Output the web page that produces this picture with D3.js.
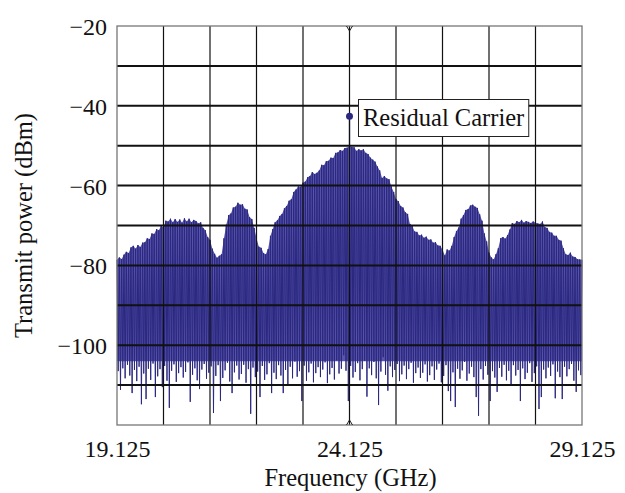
<!DOCTYPE html>
<html lang="en">
<head>
<meta charset="UTF-8">
<title>Transmit power spectrum</title>
<script src="https://d3js.org/d3.v7.min.js"></script>
<style>
    body { margin: 0; background: #fff; }
    svg { display: block; }
    text { font-family: "Liberation Serif", "DejaVu Serif", serif; fill: #111; }
</style>
</head>
<body>
<svg id="chart" width="625" height="493"></svg>
<script>
// spectrum sampled every 50 MHz starting at 19.125 GHz: peak of each tone, then the floor between tones
const fStart = 19.125;
const fStep = 0.05;

const peakPower = [
    -78.6, -78.0, -78.4, -77.3, -76.6, -76.9, -75.5, -75.1, -75.8, -74.9,
    -75.4, -74.3, -74.2, -73.2, -73.4, -72.0, -72.1, -70.9, -71.2, -70.1,
    -70.5, -68.8, -69.0, -68.3, -69.2, -68.4, -69.1, -68.5, -69.3, -68.2,
    -69.0, -68.3, -69.2, -68.6, -68.9, -69.5, -69.2, -70.6, -71.2, -72.9,
    -73.6, -75.8, -77.1, -78.1, -77.6, -77.2, -73.2, -69.8, -67.4, -67.0,
    -65.5, -65.3, -64.3, -64.8, -64.7, -65.8, -66.0, -67.9, -68.4, -70.6,
    -73.2, -75.3, -75.6, -76.9, -77.2, -75.9, -72.6, -70.9, -69.2, -68.7,
    -67.6, -67.1, -65.7, -65.1, -63.8, -63.4, -61.6, -61.0, -60.2, -60.3,
    -59.3, -59.0, -57.9, -57.6, -56.6, -57.1, -56.8, -56.2, -54.8, -54.9,
    -53.9, -53.8, -53.0, -53.1, -51.8, -51.7, -51.1, -51.3, -50.6, -50.5,
    -50.1, -50.3, -50.4, -51.3, -50.9, -51.2, -50.9, -51.8, -52.1, -53.0,
    -53.5, -54.0, -55.2, -56.2, -58.1, -57.6, -58.2, -58.4, -60.2, -61.6,
    -63.4, -63.9, -65.1, -65.5, -66.7, -67.1, -69.6, -70.1, -71.5, -71.6,
    -72.5, -72.3, -73.1, -72.8, -73.6, -73.5, -74.3, -74.2, -75.0, -75.1,
    -76.1, -77.5, -76.0, -76.3, -75.1, -72.9, -71.4, -70.5, -68.3, -67.4,
    -66.1, -65.9, -65.0, -64.8, -65.3, -65.6, -67.2, -68.8, -72.0, -74.0,
    -76.8, -78.0, -78.5, -77.2, -75.7, -73.2, -72.9, -73.3, -72.4, -71.0,
    -69.4, -69.6, -68.9, -69.2, -68.6, -69.3, -68.9, -69.1, -69.4, -69.0,
    -69.3, -69.5, -69.6, -69.0, -70.4, -70.6, -71.6, -71.8, -72.6, -72.6,
    -73.6, -73.8, -75.7, -77.2, -77.4, -76.8, -77.8, -77.9, -78.4, -78.5,
    -78.6
];

const floorPower = [
    -106.5, -111.2, -105.8, -108.3, -104.9, -107.6, -112.0, -106.2, -109.0, -105.4,
    -114.8, -107.1, -113.5, -105.9, -108.7, -104.6, -113.0, -107.8, -106.0, -110.5,
    -105.2, -108.9, -115.7, -106.4, -104.8, -109.2, -107.0, -105.5, -108.1, -106.7,
    -104.3, -114.2, -107.4, -105.8, -108.8, -111.0, -106.1, -104.7, -108.4, -106.9,
    -105.3, -117.0, -107.7, -105.0, -114.0, -108.2, -106.3, -104.4, -109.1, -112.0,
    -106.8, -105.1, -108.6, -107.2, -104.9, -109.4, -106.0, -117.2, -105.6, -108.0,
    -106.6, -113.0, -105.2, -108.7, -107.3, -104.5, -112.0, -106.9, -108.5, -105.0,
    -107.6, -112.0, -106.2, -110.0, -105.4, -108.3, -104.1, -107.9, -106.5, -114.0,
    -105.1, -108.9, -106.8, -104.6, -109.3, -107.0, -105.5, -108.0, -106.1, -104.3,
    -109.5, -107.3, -105.7, -108.6, -103.8, -107.1, -105.9, -102.5, -106.4, -114.0,
    -105.2, -108.1, -106.7, -104.5, -108.8, -106.0, -103.9, -112.9, -105.8, -107.5,
    -104.2, -108.3, -115.0, -106.6, -103.0, -107.4, -111.4, -105.3, -108.0, -106.2,
    -104.7, -109.0, -107.3, -105.1, -108.5, -106.0, -104.4, -109.4, -107.0, -105.6,
    -108.2, -106.9, -104.8, -109.1, -107.5, -105.3, -108.7, -106.1, -104.6, -109.3,
    -107.7, -105.0, -111.5, -114.0, -106.8, -115.5, -105.9, -108.4, -106.3, -104.2,
    -108.9, -107.1, -105.4, -108.0, -113.0, -117.7, -106.0, -108.6, -105.2, -107.4,
    -114.0, -106.5, -108.1, -111.7, -105.7, -107.9, -104.9, -108.8, -106.4, -110.0,
    -105.0, -107.6, -106.2, -114.0, -105.8, -108.5, -106.9, -104.5, -109.2, -107.0,
    -105.3, -116.0, -113.0, -106.1, -108.3, -105.6, -107.7, -104.8, -113.3, -106.6,
    -108.0, -113.5, -105.4, -107.8, -106.0, -104.7, -108.9, -111.7, -106.3, -107.5
];

// level down to which the skirts between tones are filled in
const skirtLevel = -104;

const carrier = { freq: 24.125, power: -42.6, label: "Residual Carrier" };

const xTicks = [19.125, 24.125, 29.125];
const xGrid = [20.125, 21.125, 22.125, 23.125, 24.125, 25.125, 26.125, 27.125, 28.125];
const yTicks = [-20, -40, -60, -80, -100];
const yGrid = [-30, -40, -50, -60, -70, -80, -90, -100, -110];

const svg = d3.select("#chart");
const plotL = 117, plotR = 582, plotT = 26, plotB = 425;

const x = d3.scaleLinear().domain([19.125, 29.125]).range([plotL, plotR]);
const y = d3.scaleLinear().domain([-120, -20]).range([plotB, plotT]);

const peaks = peakPower.map((p, i) => [fStart + i * fStep, p]);

// zig-zag through each tone peak and the floor after it
const pts = [];
peaks.forEach((d, i) => {
    pts.push(d);
    if (i < floorPower.length) pts.push([d[0] + fStep / 2, floorPower[i]]);
});

// tone skirts
svg.append("path")
    .datum(peaks)
    .attr("d", d3.area().x(d => x(d[0])).y0(y(skirtLevel)).y1(d => y(d[1])))
    .attr("fill", "#5955aa");

svg.append("path")
    .datum(pts)
    .attr("d", d3.line().x(d => x(d[0])).y(d => y(d[1])))
    .attr("fill", "none")
    .attr("stroke", "#2b2880")
    .attr("stroke-width", 1)
    .attr("stroke-linejoin", "round");

// carrier stem + dot
const peakAtCarrier = peakPower[Math.round((carrier.freq - fStart) / fStep)];
svg.append("line")
    .attr("x1", x(carrier.freq)).attr("x2", x(carrier.freq))
    .attr("y1", y(carrier.power)).attr("y2", y(peakAtCarrier))
    .attr("stroke", "#2b2880").attr("stroke-width", 1.3);

// grid, drawn on top of the trace
const grid = svg.append("g");
grid.selectAll(".gx").data(xGrid).enter().append("line")
    .attr("x1", d => x(d)).attr("x2", d => x(d))
    .attr("y1", plotT).attr("y2", plotB)
    .attr("stroke", "#111").attr("stroke-width", 1.2);
grid.selectAll(".gy").data(yGrid).enter().append("line")
    .attr("x1", plotL).attr("x2", plotR)
    .attr("y1", d => y(d)).attr("y2", d => y(d))
    .attr("stroke", "#111").attr("stroke-width", 2);

svg.append("circle")
    .attr("cx", x(carrier.freq)).attr("cy", y(carrier.power))
    .attr("r", 3.5).attr("fill", "#2b2880");

// frame
svg.append("rect")
    .attr("x", plotL).attr("y", plotT)
    .attr("width", plotR - plotL).attr("height", plotB - plotT)
    .attr("fill", "none").attr("stroke", "#777").attr("stroke-width", 1.3);

// little tick marks at the centre frequency
const cx = x(carrier.freq);
svg.append("path")
    .attr("d", `M${cx - 3},${plotB} L${cx},${plotB - 5} L${cx + 3},${plotB} M${cx - 3},${plotT} L${cx},${plotT + 5} L${cx + 3},${plotT}`)
    .attr("fill", "none").attr("stroke", "#222").attr("stroke-width", 1);

// annotation box
const note = svg.append("g");
const noteText = note.append("text")
    .attr("x", 363).attr("y", 126)
    .attr("font-size", 24.5)
    .text(carrier.label);
const bb = noteText.node().getBBox();
note.insert("rect", "text")
    .attr("x", 358.5).attr("y", 99.5)
    .attr("width", bb.width + 9).attr("height", 37)
    .attr("fill", "#fff").attr("stroke", "#222").attr("stroke-width", 1);

// axes
const xAxis = svg.append("g")
    .attr("transform", `translate(0,${plotB})`)
    .call(d3.axisBottom(x).tickValues(xTicks).tickSize(0).tickFormat(d3.format(".3f")));
xAxis.select(".domain").remove();
xAxis.selectAll("text")
    .attr("y", 32).attr("dy", 0)
    .attr("font-size", 24)
    .attr("font-family", "Liberation Serif")
    .attr("fill", "#111");

const yAxis = svg.append("g")
    .attr("transform", `translate(${plotL},0)`)
    .call(d3.axisLeft(y).tickValues(yTicks).tickSize(0));
yAxis.select(".domain").remove();
yAxis.selectAll("text")
    .attr("x", -10).attr("dy", 8.5)
    .attr("font-size", 24)
    .attr("font-family", "Liberation Serif")
    .attr("fill", "#111");

svg.append("text")
    .attr("x", (plotL + plotR) / 2 + 1).attr("y", 486)
    .attr("text-anchor", "middle")
    .attr("font-size", 24.5)
    .text("Frequency (GHz)");

svg.append("text")
    .attr("transform", `translate(32,${(plotT + plotB) / 2}) rotate(-90)`)
    .attr("text-anchor", "middle")
    .attr("font-size", 24.5)
    .text("Transmit power (dBm)");
</script>
</body>
</html>
